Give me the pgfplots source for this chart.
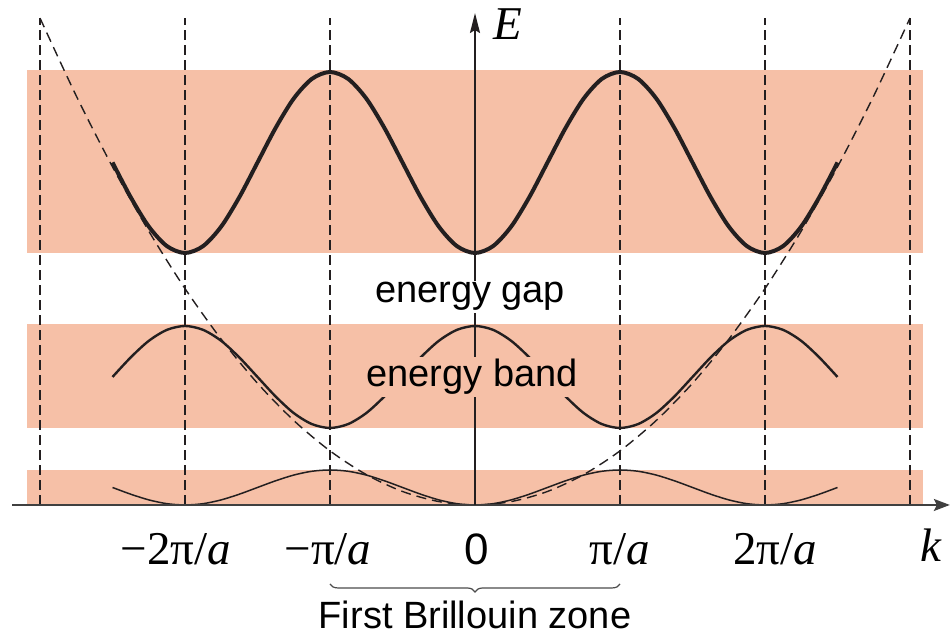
\documentclass[border=0pt]{standalone}
\usepackage{fontspec}
\setmainfont{Liberation Serif}
\newfontfamily\sansf{Liberation Sans}
\usepackage{pgfplots}
\pgfplotsset{compat=1.18}
\usetikzlibrary{arrows.meta,decorations.pathreplacing}
\definecolor{band}{RGB}{246,192,167}
\definecolor{ink}{RGB}{35,31,32}
\tikzset{
  zb/.style={ink, line width=0.7pt, dash pattern=on 5pt off 2.5pt},
  tl/.style={anchor=base, inner sep=0pt, font=\fontsize{23.5}{28}\selectfont},
}
\begin{document}
\begin{tikzpicture}
\begin{axis}[
  hide axis,
  x=72.5pt, y=0.5pt,
  xmin=-3.276, xmax=3.283, ymin=-132, ymax=505,
  clip=false,
]
% bands
\addplot[fill=band, draw=none] coordinates {(-3.09,252) (3.09,252) (3.09,435) (-3.09,435)};
\addplot[fill=band, draw=none] coordinates {(-3.09,77) (3.09,77) (3.09,181) (-3.09,181)};
\addplot[fill=band, draw=none] coordinates {(-3.09,0) (3.09,0) (3.09,35) (-3.09,35)};
% dashed zone boundaries
\addplot[zb] coordinates {(-3,0) (-3,487)};
\addplot[zb] coordinates {(-2,0) (-2,487)};
\addplot[zb] coordinates {(-1,0) (-1,487)};
\addplot[zb] coordinates {(1,0) (1,487)};
\addplot[zb] coordinates {(2,0) (2,487)};
\addplot[zb] coordinates {(3,0) (3,487)};
% free electron parabola
\addplot[ink, line width=0.7pt, dash pattern=on 5pt off 3pt, smooth] coordinates {
(-3,486.9) (-2.75,409.1) (-2.5,338.1) (-2.25,273.9) (-2,216.4) (-1.75,165.7) (-1.5,121.7) (-1.25,84.5) (-1,54.1) (-0.75,30.4) (-0.5,13.5) (-0.25,3.4) (0,0)
(0.25,3.4) (0.5,13.5) (0.75,30.4) (1,54.1) (1.25,84.5) (1.5,121.7) (1.75,165.7) (2,216.4) (2.25,273.9) (2.5,338.1) (2.75,409.1) (3,486.9)};
% top band
\addplot[ink, line width=2pt, smooth] coordinates {
(-2.5,342.5) (-2.375,307.9) (-2.25,278.5) (-2.125,258.9) (-2,252) (-1.875,258.9) (-1.75,278.5) (-1.625,307.9) (-1.5,342.5) (-1.375,377.1) (-1.25,406.5) (-1.125,426.1) (-1,433) (-0.875,426.1) (-0.75,406.5) (-0.625,377.1) (-0.5,342.5) (-0.375,307.9) (-0.25,278.5) (-0.125,258.9) (0,252) (0.125,258.9) (0.25,278.5) (0.375,307.9) (0.5,342.5) (0.625,377.1) (0.75,406.5) (0.875,426.1) (1,433) (1.125,426.1) (1.25,406.5) (1.375,377.1) (1.5,342.5) (1.625,307.9) (1.75,278.5) (1.875,258.9) (2,252) (2.125,258.9) (2.25,278.5) (2.375,307.9) (2.5,342.5)};
% middle band
\addplot[ink, line width=1.2pt, smooth] coordinates {
(-2.5,128) (-2.375,147.5) (-2.25,164.1) (-2.125,175.1) (-2,179) (-1.875,175.1) (-1.75,164.1) (-1.625,147.5) (-1.5,128) (-1.375,108.5) (-1.25,91.9) (-1.125,80.9) (-1,77) (-0.875,80.9) (-0.75,91.9) (-0.625,108.5) (-0.5,128) (-0.375,147.5) (-0.25,164.1) (-0.125,175.1) (0,179) (0.125,175.1) (0.25,164.1) (0.375,147.5) (0.5,128) (0.625,108.5) (0.75,91.9) (0.875,80.9) (1,77) (1.125,80.9) (1.25,91.9) (1.375,108.5) (1.5,128) (1.625,147.5) (1.75,164.1) (1.875,175.1) (2,179) (2.125,175.1) (2.25,164.1) (2.375,147.5) (2.5,128)};
% bottom band
\addplot[ink, line width=0.75pt, smooth] coordinates {
(-2.5,17.5) (-2.375,10.8) (-2.25,5.1) (-2.125,1.3) (-2,0) (-1.875,1.3) (-1.75,5.1) (-1.625,10.8) (-1.5,17.5) (-1.375,24.2) (-1.25,29.9) (-1.125,33.7) (-1,35) (-0.875,33.7) (-0.75,29.9) (-0.625,24.2) (-0.5,17.5) (-0.375,10.8) (-0.25,5.1) (-0.125,1.3) (0,0) (0.125,1.3) (0.25,5.1) (0.375,10.8) (0.5,17.5) (0.625,24.2) (0.75,29.9) (0.875,33.7) (1,35) (1.125,33.7) (1.25,29.9) (1.375,24.2) (1.5,17.5) (1.625,10.8) (1.75,5.1) (1.875,1.3) (2,0) (2.125,1.3) (2.25,5.1) (2.375,10.8) (2.5,17.5)};
% axes
\addplot[black!75, line width=1pt, -{Stealth[length=8pt,width=6pt,inset=1.5pt]}] coordinates {(-3.193,0) (3.275,0)};
\addplot[ink, line width=1pt, -{Stealth[length=10pt,width=5pt,inset=1.5pt]}] coordinates {(0,0) (0,492)};
% texts
\node[anchor=base, fill=white, inner sep=1pt, font=\sansf\fontsize{19}{22}\selectfont] at (axis cs:-0.034,202) {energy gap};
\node[anchor=base, fill=band, inner sep=1pt, font=\sansf\fontsize{19}{22}\selectfont] at (axis cs:-0.02,118) {energy band};
\node[tl] at (axis cs:-2.062,-60) {−2π/\textit{a}};
\node[tl] at (axis cs:-1.014,-60) {−π/\textit{a}};
\node[anchor=base, inner sep=0pt, font=\sansf\fontsize{22}{26}\selectfont] at (axis cs:0.015,-60) {0};
\node[tl] at (axis cs:1,-60) {π/\textit{a}};
\node[tl] at (axis cs:2.07,-60) {2π/\textit{a}};
\node[tl] at (axis cs:3.145,-57) {\textit{k}};
\node[tl] at (axis cs:0.228,465) {\textit{E}};
\draw[decorate, decoration={brace, mirror, amplitude=4pt}, line width=0.6pt, black!70] (axis cs:-1,-79) -- (axis cs:1,-79);
\node[anchor=base, inner sep=0pt, font=\sansf\fontsize{19}{22}\selectfont] at (axis cs:0,-124) {First Brillouin zone};
\end{axis}
\pgfresetboundingbox
\path[use as bounding box] (current axis.south west) rectangle (current axis.north east);
\end{tikzpicture}
\end{document}
